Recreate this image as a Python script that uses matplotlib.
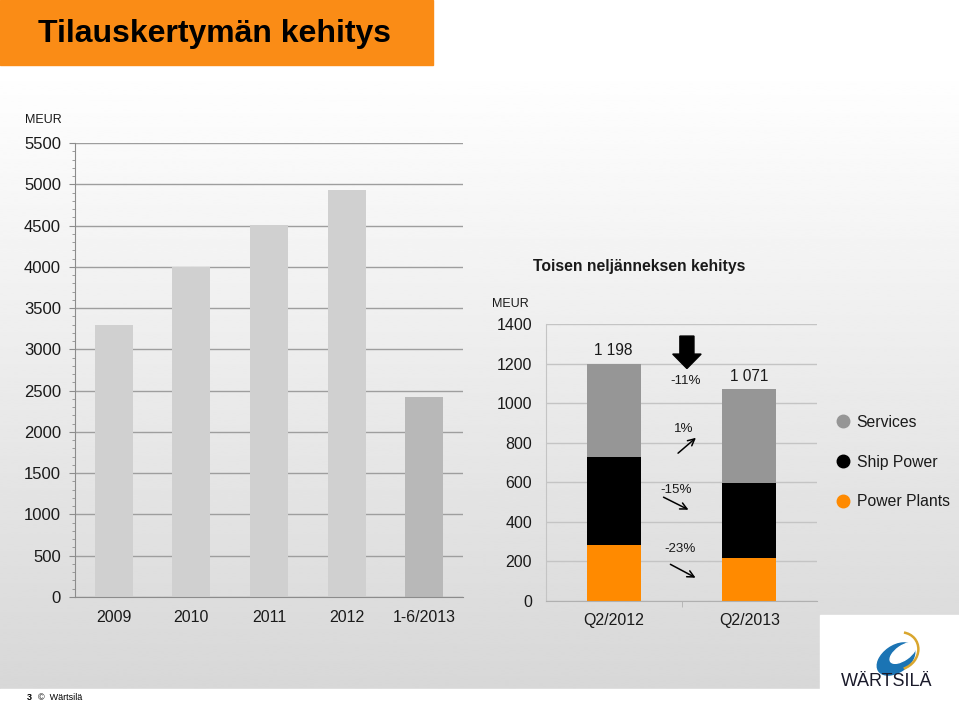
import numpy as np
import matplotlib
matplotlib.use("Agg")
import matplotlib.pyplot as plt
from matplotlib.patches import Rectangle, Polygon, Ellipse, Arc
from matplotlib.lines import Line2D

plt.rcParams['font.family'] = ['Liberation Sans', 'DejaVu Sans']

# ---------------- data ----------------
years = ["2009", "2010", "2011", "2012", "1-6/2013"]
order_intake = [3295, 4000, 4510, 4935, 2425]

quarters = ["Q2/2012", "Q2/2013"]
power_plants = [283, 218]
ship_power = [446, 380]
services = [469, 473]
totals = [1198, 1071]
seg_changes = ["-23%", "-15%", "1%"]
total_change = "-11%"
legend_labels = ["Services", "Ship Power", "Power Plants"]

W, H = 959, 701
fig = plt.figure(figsize=(W / 100, H / 100), dpi=100)

# ---------------- background ----------------
bg = fig.add_axes([0, 0, 1, 1], zorder=-10)
bg.set_xlim(0, W)
bg.set_ylim(H, 0)
bg.axis("off")
grad = np.linspace(1.0, 0.845, 256).reshape(-1, 1)
bg.imshow(grad, cmap="gray", vmin=0, vmax=1, aspect="auto",
          extent=[0, W, 689, 65], interpolation="bilinear")
bg.add_patch(Rectangle((0, 689), W, H - 689, color="white"))
bg.add_patch(Rectangle((820, 615), W - 820, H - 615, color="white"))
bg.add_patch(Rectangle((0, 0), 433, 65, color="#fa8c16"))
bg.text(38, 34, "Tilauskertymän kehitys", fontsize=23, fontweight="bold",
        color="black", va="center", ha="left")
bg.text(27, 697, "3", fontsize=6.5, fontweight="bold", va="center", ha="left")
bg.text(38, 697, "©  Wärtsilä", fontsize=6.5, va="center", ha="left")
# logo
bg.add_patch(Ellipse((896, 659), 42, 26, angle=-35, color="#1b74b4"))
bg.add_patch(Ellipse((903, 653), 30, 14, angle=-35, color="white"))
bg.add_patch(Arc((899, 651), 40, 36, angle=-35, theta1=-40, theta2=110,
                 color="#d9a62e", lw=1.8))
bg.text(887, 682, "WÄRTSILÄ", fontsize=13, color="#1a1a2a", ha="center",
        va="center", family=["Liberation Sans Narrow", "Liberation Sans"])

text_c = "#1a1a1a"

# ---------------- left chart ----------------
ax1 = fig.add_axes([75 / W, 1 - 597 / H, (463 - 75) / W, (597 - 143) / H])
ax1.patch.set_alpha(0)
x1 = np.arange(len(years))
colors1 = ["#d0d0d0"] * 4 + ["#b8b8b8"]
ax1.bar(x1, order_intake, width=0.49, color=colors1, zorder=2)
ax1.set_xlim(-0.5, len(years) - 0.5)
ax1.set_ylim(0, 5500)
ax1.set_yticks(np.arange(0, 5501, 500))
ax1.set_yticks(np.arange(0, 5501, 100), minor=True)
ax1.yaxis.grid(True, color="#9e9e9e", lw=1.0, zorder=0)
ax1.set_axisbelow(True)
ax1.set_xticks(x1)
ax1.set_xticklabels(years)
for s in ["top", "right"]:
    ax1.spines[s].set_visible(False)
for s in ["left", "bottom"]:
    ax1.spines[s].set_color("#8c8c8c")
ax1.tick_params(axis="y", which="major", length=4, color="#8c8c8c", pad=6,
                labelsize=12, labelcolor=text_c)
ax1.tick_params(axis="y", which="minor", length=2, color="#8c8c8c")
ax1.tick_params(axis="x", length=0, pad=9, labelsize=11.5, labelcolor=text_c)
fig.text(25 / W, 1 - 120 / H, "MEUR", fontsize=9, color=text_c, va="center")

# ---------------- right chart ----------------
ax2 = fig.add_axes([546 / W, 1 - 601 / H, (817 - 546) / W, (601 - 324) / H])
ax2.patch.set_alpha(0)
x2 = np.arange(len(quarters))
bw = 0.4
pp = np.array(power_plants)
sp = np.array(ship_power)
sv = np.array(services)
ax2.bar(x2, pp, width=bw, color="#ff8a00", zorder=2)
ax2.bar(x2, sp, width=bw, bottom=pp, color="black", zorder=2)
ax2.bar(x2, sv, width=bw, bottom=pp + sp, color="#969696", zorder=2)
ax2.set_xlim(-0.5, 1.5)
ax2.set_ylim(0, 1400)
ax2.set_yticks(np.arange(0, 1401, 200))
ax2.yaxis.grid(True, color="#c4c4c4", lw=1.0, zorder=0)
ax2.set_axisbelow(True)
ax2.set_xticks(x2)
ax2.set_xticklabels(quarters)
ax2.set_xticks([0.5], minor=True)
for s in ["top", "right"]:
    ax2.spines[s].set_visible(False)
ax2.spines["left"].set_color("#c4c4c4")
ax2.spines["bottom"].set_color("#b0b0b0")
ax2.tick_params(axis="y", length=0, pad=10, labelsize=11.5, labelcolor=text_c)
ax2.tick_params(axis="x", which="major", length=0, pad=9, labelsize=11.5, labelcolor=text_c)
ax2.tick_params(axis="x", which="minor", length=4, color="#b0b0b0")

for i, t in enumerate(totals):
    ax2.annotate(f"{t:,}".replace(",", " "), (x2[i], t), xytext=(0, 4),
                 textcoords="offset points", ha="center", va="bottom",
                 fontsize=11.2, color=text_c)

fig.text(639 / W, 1 - 267 / H, "Toisen neljänneksen kehitys", fontsize=11.3,
         fontweight="bold", ha="center", va="center", color=text_c)
fig.text(492 / W, 1 - 304 / H, "MEUR", fontsize=9, color=text_c, va="center")

# big down arrow
cx = 0.54
arrow = Polygon([[cx - 0.052, 1339], [cx + 0.052, 1339], [cx + 0.052, 1248],
                 [cx + 0.105, 1248], [cx, 1175], [cx - 0.105, 1248],
                 [cx - 0.052, 1248]], closed=True, color="black", clip_on=False)
ax2.add_patch(arrow)
ax2.text(0.533, 1112, total_change, fontsize=9.6, ha="center", va="center", color=text_c)

# segment change labels and arrows
seg_text_pos = [(0.489, 263), (0.459, 561), (0.518, 869)]
seg_arrows = [((0.400, 192), (0.622, 111)),
              ((0.349, 531), (0.570, 455)),
              ((0.459, 738), (0.622, 834))]
for lab, (tx, ty), (start, end) in zip(seg_changes, seg_text_pos, seg_arrows):
    ax2.text(tx, ty, lab, fontsize=9.6, ha="center", va="center", color=text_c)
    ax2.annotate("", xy=end, xytext=start,
                 arrowprops=dict(arrowstyle="->", color="black", lw=1.1,
                                 mutation_scale=12))

# legend
handles = [Line2D([], [], marker="o", ls="none", markersize=9, color=c)
           for c in ["#969696", "black", "#ff8a00"]]
fig.legend(handles, legend_labels, loc="center left",
           bbox_to_anchor=(837 / W, 1 - 462 / H), frameon=False,
           fontsize=11.3, labelspacing=1.58, handlelength=0.8,
           handletextpad=0.45, borderpad=0, borderaxespad=0,
           labelcolor=text_c)

fig.savefig("out.png", dpi=100)
